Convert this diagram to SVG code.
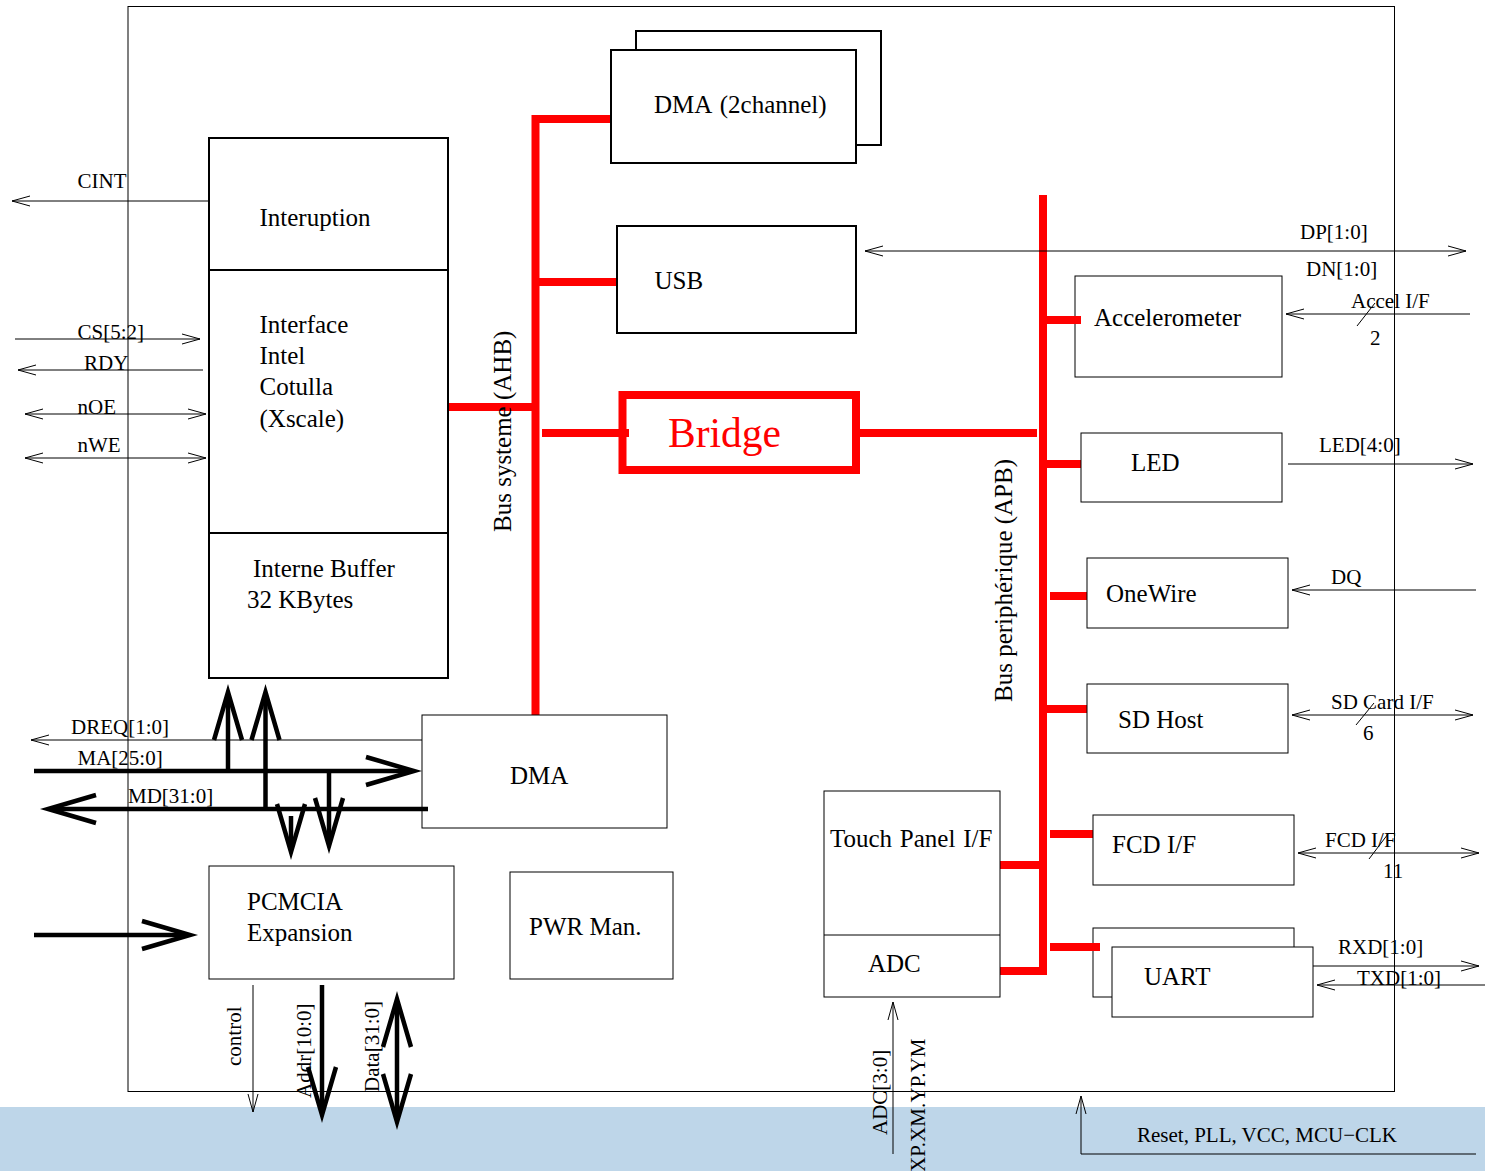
<svg xmlns="http://www.w3.org/2000/svg" width="1485" height="1171" viewBox="0 0 1485 1171">
<style>
text{font-family:"Liberation Serif","Times New Roman",serif;fill:#000}
.m{font-size:25px}
.w{word-spacing:2.500px}
.s{font-size:21px}
.box{fill:#fff;stroke:#000;stroke-width:1}
.box2{fill:#fff;stroke:#000;stroke-width:2}
.thin{fill:none;stroke:#000;stroke-width:1;marker-end:url(#a)}
.both{fill:none;stroke:#000;stroke-width:1;marker-end:url(#a);marker-start:url(#a)}
.thick{fill:none;stroke:#000;stroke-width:4.500;marker-end:url(#b)}
.thickb{fill:none;stroke:#000;stroke-width:4.500;marker-end:url(#b);marker-start:url(#b)}
.plain{fill:none;stroke:#000;stroke-width:1}
.bus{fill:none;stroke:#f00;stroke-width:8}
</style>
<defs>
<marker id="a" markerUnits="userSpaceOnUse" markerWidth="24" markerHeight="16" refX="20" refY="8" orient="auto-start-reverse" overflow="visible"><path d="M2,3 L20,8 L2,13" fill="none" stroke="#000" stroke-width="1"/></marker>
<marker id="b" markerUnits="userSpaceOnUse" markerWidth="70" markerHeight="36" refX="54" refY="18" orient="auto-start-reverse" overflow="visible"><path d="M8,4 L56,18 L8,32" fill="none" stroke="#000" stroke-width="4.500"/></marker>
</defs>
<rect x="0" y="1107" width="1485" height="64" fill="#bed6e9"/>
<rect id="frame" x="128" y="6.500" width="1266.500" height="1085" fill="none" stroke="#000" stroke-width="1"/>

<g id="connectors">
<path class="bus" d="M611,119H535.500V715M539,282H617M448,407H535M542,433H629M858,433H1037M1043,195V975M1047,464H1081M1050,596H1087M1047,709H1087M1050,834H1093M1050,947H1100M1000,865H1040M1000,971H1047"/>
<path class="thin" d="M209,201H12"/>
<path class="thin" d="M15,339H200"/>
<path class="thin" d="M203,370H18"/>
<path class="both" d="M25,414H206"/>
<path class="both" d="M25,458H206"/>
<path class="thin" d="M422,740H31"/>
<path class="both" d="M865,251H1466"/>
<path class="thin" d="M1470,314H1286"/>
<path class="plain" d="M1357,326L1375,303"/>
<path class="thin" d="M1288,464H1473"/>
<path class="thin" d="M1476,590H1292"/>
<path class="both" d="M1292,715H1473"/>
<path class="plain" d="M1356,725L1374,703"/>
<path class="both" d="M1298,853H1479"/>
<path class="plain" d="M1369,859L1388,834"/>
<path class="thin" d="M1313,966H1479"/>
<path class="thin" d="M1485,985H1317"/>
<path class="thin" d="M253,985V1112"/>
<path class="thin" d="M893,1154V1002"/>
<path class="thin" d="M1476,1154H1081V1096"/>
<path class="thick" d="M34,771H412"/>
<path class="thick" d="M428,809H50"/>
<path class="thick" d="M228,771V694"/>
<path class="thick" d="M265.500,809V694"/>
<path class="thick" d="M329,771V844"/>
<path class="thick" d="M291,816V850"/>
<path class="thick" d="M34,935H188"/>
<path class="thick" d="M322,985V1113"/>
<path class="thickb" d="M397,1001V1120"/>
</g>

<g id="dma2-back"><rect class="box2" x="636" y="31" width="245" height="114"/></g>
<g id="dma2"><rect class="box2" x="611" y="50" width="245" height="113"/><text class="m w" x="654" y="113">DMA (2channel)</text></g>
<g id="usb"><rect class="box2" x="617" y="226" width="239" height="107"/><text class="m" x="654.500" y="289">USB</text></g>
<g id="bridge"><rect x="622.500" y="395" width="233.500" height="75" fill="#fff" stroke="#f00" stroke-width="8"/><text x="668" y="447" style="fill:#f00;font-size:41.500px">Bridge</text></g>
<path class="bus" d="M621,433H629"/>
<g id="cpu">
<rect class="box2" x="209" y="138" width="239" height="540"/>
<path d="M209,270H448M209,533H448" stroke="#000" stroke-width="2" fill="none"/>
<text class="m" x="259.500" y="226">Interuption</text>
<text class="m" x="259.500" y="333">Interface</text>
<text class="m" x="259.500" y="364">Intel</text>
<text class="m" x="259.500" y="395">Cotulla</text>
<text class="m" x="259.500" y="427">(Xscale)</text>
<text class="m" x="253" y="577">Interne Buffer</text>
<text class="m" x="247" y="608">32 KBytes</text>
</g>
<g id="accelerometer"><rect class="box" x="1075" y="276" width="207" height="101"/><text class="m" x="1094" y="326">Accelerometer</text></g>
<path class="bus" d="M1047,320H1081"/>
<g id="led"><rect class="box" x="1081" y="433" width="201" height="69"/><text class="m" x="1131" y="471">LED</text></g>
<g id="onewire"><rect class="box" x="1087" y="558" width="201" height="70"/><text class="m" x="1106" y="602">OneWire</text></g>
<g id="sdhost"><rect class="box" x="1087" y="684" width="201" height="69"/><text class="m" x="1118" y="728">SD Host</text></g>
<g id="fcd"><rect class="box" x="1093" y="815" width="201" height="70"/><text class="m" x="1112" y="853">FCD I/F</text></g>
<g id="uart-back"><rect class="box" x="1093" y="928" width="201" height="69"/></g>
<path class="bus" d="M1050,947H1100"/>
<g id="uart"><rect class="box" x="1112" y="947" width="201" height="70"/><text class="m" x="1144" y="985">UART</text></g>
<g id="touch"><rect class="box" x="824" y="791" width="176" height="206"/><path class="plain" d="M824,935H1000"/><text class="m" style="word-spacing:1.500px" x="830" y="847">Touch Panel I/F</text><text class="m" x="868" y="972">ADC</text></g>
<g id="dma"><rect class="box" x="422" y="715" width="245" height="113" style="fill:none"/><text class="m" x="510" y="784">DMA</text></g>
<g id="pcmcia"><rect class="box" x="209" y="866" width="245" height="113"/><text class="m" x="247" y="910">PCMCIA</text><text class="m" x="247" y="941">Expansion</text></g>
<g id="pwr"><rect class="box" x="510" y="872" width="163" height="107"/><text class="m" x="529" y="935">PWR Man.</text></g>

<g id="labels">
<text class="m" transform="translate(511,532) rotate(-90)">Bus systeme (AHB)</text>
<text class="m" transform="translate(1012,702) rotate(-90)">Bus periphérique (APB)</text>
<text class="s" x="77.500" y="188">CINT</text>
<text class="s" x="77.500" y="339">CS[5:2]</text>
<text class="s" x="84" y="370">RDY</text>
<text class="s" x="77.500" y="414">nOE</text>
<text class="s" x="77.500" y="452">nWE</text>
<text class="s" x="71" y="734">DREQ[1:0]</text>
<text class="s" x="77.500" y="765">MA[25:0]</text>
<text class="s" x="128" y="803">MD[31:0]</text>
<text class="s" x="1300" y="239">DP[1:0]</text>
<text class="s" x="1306" y="276">DN[1:0]</text>
<text class="s" x="1351" y="308">Accel I/F</text>
<text class="s" x="1370" y="345">2</text>
<text class="s" x="1319" y="452">LED[4:0]</text>
<text class="s" x="1331" y="584">DQ</text>
<text class="s" x="1331" y="709">SD Card I/F</text>
<text class="s" x="1363" y="740">6</text>
<text class="s" x="1325" y="847">FCD I/F</text>
<text class="s" x="1383" y="878">11</text>
<text class="s" x="1338" y="954">RXD[1:0]</text>
<text class="s" x="1357" y="985">TXD[1:0]</text>
<text class="s" x="1137" y="1142">Reset, PLL, VCC, MCU−CLK</text>
<text class="s" transform="translate(241,1066) rotate(-90)">control</text>
<text class="s" transform="translate(311,1098) rotate(-90)">Addr[10:0]</text>
<text class="s" transform="translate(379,1092) rotate(-90)">Data[31:0]</text>
<text class="s" transform="translate(887,1135) rotate(-90)">ADC[3:0]</text>
<text class="s" transform="translate(925,1172) rotate(-90)" style="letter-spacing:.1px">XP.XM.YP.YM</text>
</g>
</svg>
